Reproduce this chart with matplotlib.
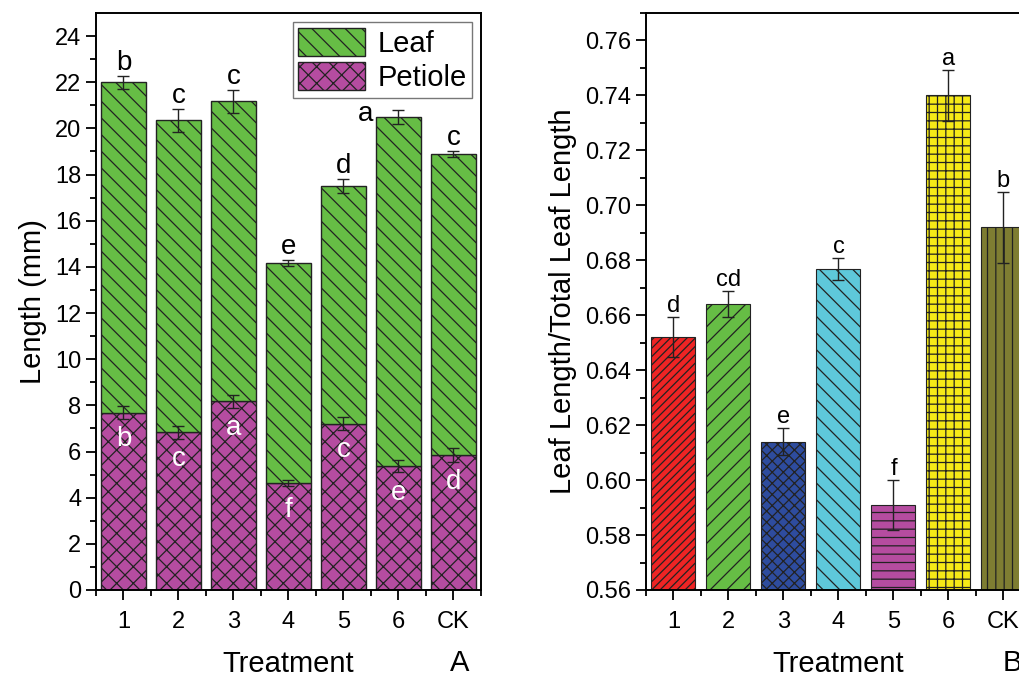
import matplotlib
matplotlib.use('Agg')
import matplotlib.pyplot as plt
import numpy as np

plt.rcParams['font.family'] = ['Liberation Sans', 'DejaVu Sans']
plt.rcParams['hatch.linewidth'] = 0.9

treatments = ['1', '2', '3', '4', '5', '6', 'CK']

# panel A: stacked lengths (mm)
petiole = [7.68, 6.83, 8.17, 4.62, 7.21, 5.37, 5.85]
petiole_err = [0.29, 0.29, 0.29, 0.13, 0.27, 0.27, 0.29]
leaf = [14.32, 13.52, 13.01, 9.55, 10.29, 15.12, 13.05]
total_err = [0.29, 0.5, 0.5, 0.12, 0.29, 0.29, 0.13]
leaf_letters = ['b', 'c', 'c', 'e', 'd', 'a', 'c']
petiole_letters = ['b', 'c', 'a', 'f', 'c', 'e', 'd']

# panel B: ratio
ratio = [0.652, 0.664, 0.614, 0.677, 0.591, 0.740, 0.692]
ratio_err = [0.0073, 0.0048, 0.0048, 0.004, 0.009, 0.0092, 0.013]
ratio_letters = ['d', 'cd', 'e', 'c', 'f', 'a', 'b']
ratio_colors = ['#EE2424', '#66BD45', '#2E4C9E', '#5EC8DA', '#B54CA0', '#F6EA17', '#7E7D32']
ratio_hatch = ['////', '//', 'xxx', '\\\\', '--', '++', '||']

green = '#66BD45'
magenta = '#B54CA0'

fig = plt.figure(figsize=(10.2, 6.77), dpi=100)
x = np.arange(1, 8)


def style_axes(ax):
    for s in ax.spines.values():
        s.set_linewidth(1.4)
    ax.set_xticks(x)
    ax.set_xticklabels(treatments)
    ax.set_xticks(np.arange(0.5, 8, 1), minor=True)
    ax.set_xlim(0.5, 7.5)
    ax.tick_params(which='major', direction='out', length=7, width=1.3, labelsize=17,
                   top=False, right=False)
    ax.tick_params(which='minor', direction='out', length=4, width=1.3, top=False, right=False)
    ax.tick_params(axis='x', pad=8)


# ---- panel A
ax1 = fig.add_axes([96 / 1020, 1 - 590 / 677, 385 / 1020, 577 / 677])
total = [p + l for p, l in zip(petiole, leaf)]
b1 = ax1.bar(x, petiole, width=0.82, color=magenta, edgecolor='#222222', linewidth=1,
             hatch='xx', label='Petiole', zorder=2)
b2 = ax1.bar(x, leaf, width=0.82, bottom=petiole, color=green, edgecolor='#222222', linewidth=1,
             hatch='\\\\', label='Leaf', zorder=2)
ax1.errorbar(x, total, yerr=total_err, fmt='none', ecolor='#222222', elinewidth=1,
             capsize=4, capthick=1, zorder=3)
ax1.errorbar(x, petiole, yerr=petiole_err, fmt='none', ecolor='#222222', elinewidth=1,
             capsize=4, capthick=1, zorder=3)
for i in range(7):
    if leaf_letters[i] == 'a':
        ax1.text(x[i] - 0.6, total[i] + 0.15, leaf_letters[i], ha='center',
                 va='center', fontsize=20)
    else:
        ax1.text(x[i], total[i] + total_err[i], leaf_letters[i], ha='center',
                 va='bottom', fontsize=20)
    ax1.text(x[i], petiole[i] - 1.15, petiole_letters[i], ha='center', va='center',
             fontsize=20, color='white', zorder=4)
ax1.set_ylim(0, 25)
ax1.set_yticks(np.arange(0, 25, 2))
ax1.set_yticks(np.arange(0, 25, 1), minor=True)
style_axes(ax1)
ax1.set_ylabel('Length (mm)', fontsize=21, labelpad=6)
ax1.set_xlabel('Treatment', fontsize=21, labelpad=12)
ax1.legend(handles=[b2, b1], loc='upper right', fontsize=21, handlelength=2.3,
           handleheight=1.1, fancybox=False, edgecolor='#555555', borderpad=0.2,
           labelspacing=0.15, handletextpad=0.4, borderaxespad=0.3)
fig.text(460 / 1020, 1 - 663 / 677, 'A', fontsize=21, ha='center', va='center')

# ---- panel B
ax2 = fig.add_axes([646 / 1020, 1 - 590 / 677, 385 / 1020, 577 / 677])
for i in range(7):
    ax2.bar(x[i], ratio[i], width=0.8, color=ratio_colors[i], edgecolor='#222222',
            linewidth=0.8, hatch=ratio_hatch[i], zorder=2)
ax2.errorbar(x, ratio, yerr=ratio_err, fmt='none', ecolor='#222222', elinewidth=1,
             capsize=4, capthick=1, zorder=3)
for i in range(7):
    ax2.text(x[i], ratio[i] + ratio_err[i], ratio_letters[i], ha='center',
             va='bottom', fontsize=17)
ax2.set_ylim(0.56, 0.77)
ax2.set_yticks(np.arange(0.56, 0.765, 0.02))
ax2.set_yticks(np.arange(0.56, 0.771, 0.01), minor=True)
ax2.yaxis.set_major_formatter(matplotlib.ticker.FormatStrFormatter('%.2f'))
style_axes(ax2)
ax2.set_ylabel('Leaf Length/Total Leaf Length', fontsize=21, labelpad=6)
ax2.set_xlabel('Treatment', fontsize=21, labelpad=12)
fig.text(1012 / 1020, 1 - 663 / 677, 'B', fontsize=21, ha='center', va='center')

plt.savefig('out.png', dpi=100)
